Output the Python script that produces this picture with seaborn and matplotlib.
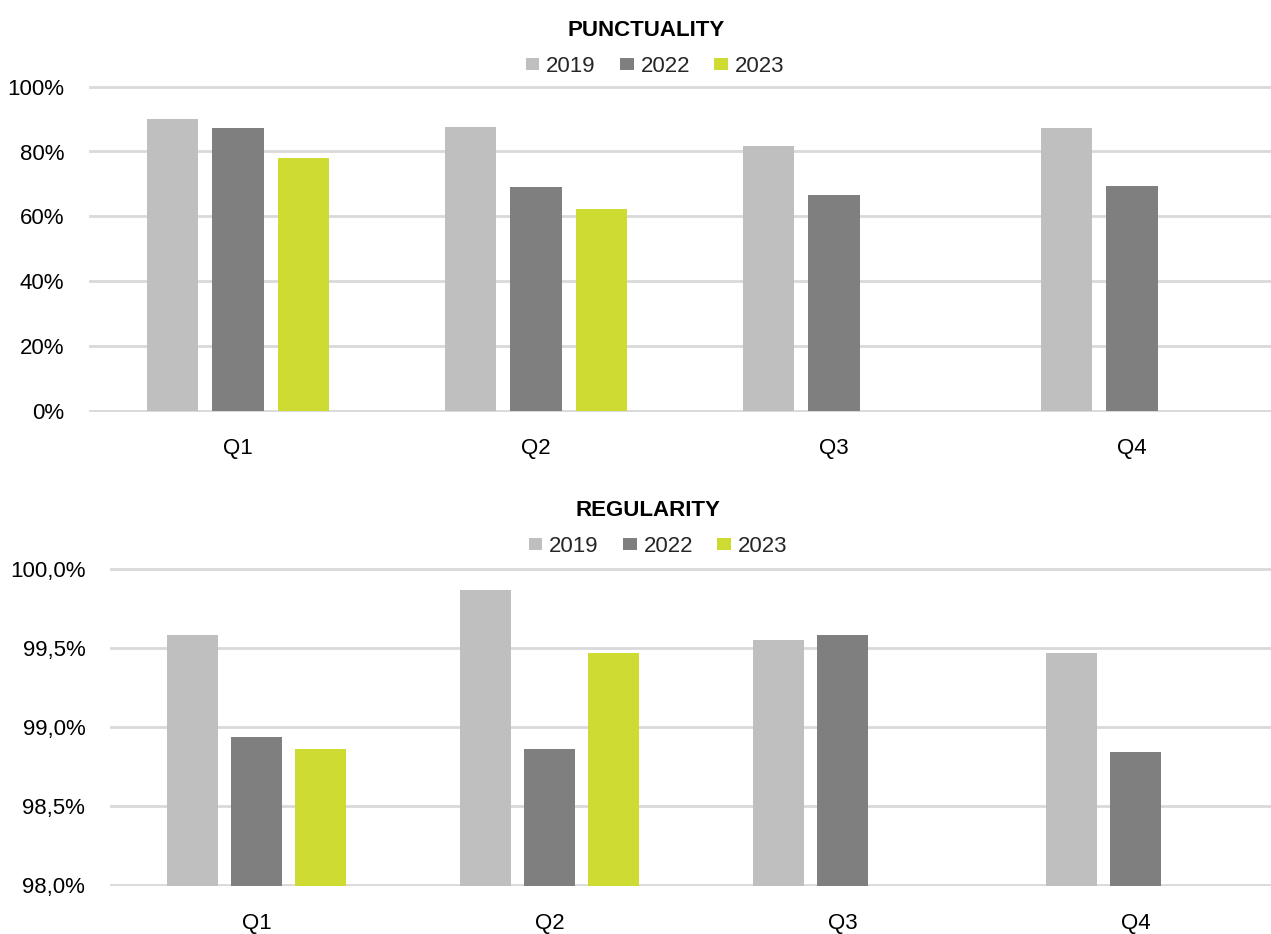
import matplotlib
matplotlib.use("Agg")
import matplotlib.pyplot as plt
import pandas as pd
import seaborn as sns
from matplotlib.ticker import FuncFormatter, MultipleLocator

# ---------------- data ----------------
quarters = ["Q1", "Q2", "Q3", "Q4"]
years = ["2019", "2022", "2023"]

punct_2019 = [89.9, 87.6, 81.8, 87.3]
punct_2022 = [87.2, 69.0, 66.5, 69.4]
punct_2023 = [78.0, 62.2, None, None]

reg_2019 = [99.58, 99.87, 99.55, 99.47]
reg_2022 = [98.94, 98.86, 99.58, 98.84]
reg_2023 = [98.86, 99.47, None, None]

colors = ["#BFBFBF", "#7F7F7F", "#CEDB33"]
grid_color = "#D9D9D9"


def to_long(series):
    rows = []
    for yr, vals in zip(years, series):
        for q, v in zip(quarters, vals):
            if v is not None:
                rows.append({"quarter": q, "year": yr, "value": v})
    return pd.DataFrame(rows)


punct_df = to_long([punct_2019, punct_2022, punct_2023])
reg_df = to_long([reg_2019, reg_2022, reg_2023])

# ---------------- style ----------------
sns.set_theme(style="white")
plt.rcParams["font.family"] = ["Liberation Sans Narrow", "Liberation Sans", "DejaVu Sans"]
FS = 16

W, H = 1271, 934
fig = plt.figure(figsize=(W / 100, H / 100), dpi=100)


def axes_rect(x0, x1, y_lo_px, y_hi_px, v_lo, v_hi, margin):
    # y_lo_px: pixel row of value v_lo ; y_hi_px: pixel row of v_hi
    ppu = (y_lo_px - y_hi_px) / (v_hi - v_lo)
    bot = y_lo_px + margin * ppu
    top = y_hi_px - margin * ppu
    return [x0 / W, 1 - bot / H, (x1 - x0) / W, (bot - top) / H]


ax1 = fig.add_axes(axes_rect(89, 1281, 410.7, 86.7, 0, 100, 0.4))
ax2 = fig.add_axes(axes_rect(110, 1282, 885.3, 569.0, 98.0, 100.0, 0.006))

panels = [
    (ax1, punct_df, (-0.4, 100.4), 20, lambda v, p: f"{v:.0f}%", "PUNCTUALITY",
     (646.5, 35.5), (655, 66.5)),
    (ax2, reg_df, (98.0 - 0.006, 100.0 + 0.006), 0.5,
     lambda v, p: f"{v:.1f}%".replace(".", ","), "REGULARITY",
     (648, 515.5), (658, 546.5)),
]

for ax, df, ylim, step, fmt, title, tpos, lpos in panels:
    sns.barplot(data=df, x="quarter", y="value", hue="year",
                order=quarters, hue_order=years, palette=colors,
                saturation=1, width=0.66, gap=0.21, linewidth=0,
                errorbar=None, ax=ax)
    ax.set_ylim(*ylim)
    ax.yaxis.set_major_locator(MultipleLocator(step))
    ax.yaxis.set_major_formatter(FuncFormatter(fmt))
    ax.set_xlabel("")
    ax.set_ylabel("")
    for s in ax.spines.values():
        s.set_visible(False)
    ax.yaxis.grid(True, color=grid_color, linewidth=2)
    ax.xaxis.grid(False)
    ax.set_axisbelow(True)
    ax.tick_params(axis="y", length=0, pad=17.8, labelsize=FS, labelcolor="black")
    ax.tick_params(axis="x", length=0, pad=19, labelsize=FS, labelcolor="black")

    handles, labels = ax.get_legend_handles_labels()
    if ax.get_legend() is not None:
        ax.get_legend().remove()
    fig.legend(handles, labels, loc="center",
               bbox_to_anchor=(lpos[0] / W, 1 - lpos[1] / H),
               ncol=3, frameon=False, fontsize=FS,
               handlelength=0.62, handleheight=0.48, handletextpad=0.3,
               columnspacing=1.1, borderpad=0, borderaxespad=0)

    fig.text(tpos[0] / W, 1 - tpos[1] / H, title, ha="center", va="baseline",
             fontsize=FS, fontweight="bold", color="black")

fig.savefig("out.png", dpi=100)
